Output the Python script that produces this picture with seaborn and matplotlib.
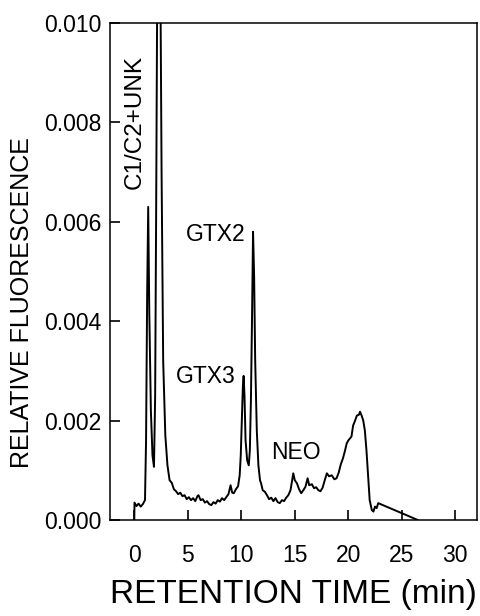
import numpy as np
import pandas as pd
import matplotlib
matplotlib.use("Agg")
import matplotlib.pyplot as plt
import seaborn as sns

# chromatogram trace (retention time in min, relative fluorescence)
time_min = [0.0, 0.02, 0.2, 0.4, 0.6, 0.8, 1.0, 1.1, 1.2, 1.3, 1.4, 1.55, 1.7, 1.84,
            1.95, 2.05, 2.15, 2.3, 2.45, 2.55, 2.7, 2.9, 3.1, 3.3, 3.5, 3.7, 3.9,
            4.1, 4.3, 4.5, 4.7, 4.9, 5.1, 5.3, 5.5, 5.7, 5.9, 6.0, 6.2, 6.4, 6.6,
            6.8, 7.0, 7.2, 7.4, 7.6, 7.8, 8.0, 8.2, 8.4, 8.6, 8.8, 9.0, 9.15, 9.3,
            9.5, 9.7, 9.85, 9.95, 10.05, 10.15, 10.22, 10.3, 10.4, 10.55, 10.7,
            10.8, 10.9, 11.0, 11.1, 11.2, 11.3, 11.45, 11.6, 11.75, 11.85, 12.0,
            12.2, 12.4, 12.6, 12.8, 13.0, 13.2, 13.4, 13.6, 13.8, 14.0, 14.2,
            14.4, 14.6, 14.75, 14.86, 15.0, 15.2, 15.4, 15.6, 15.8, 16.0, 16.2,
            16.35, 16.6, 16.8, 17.0, 17.2, 17.4, 17.6, 17.8, 18.0, 18.2, 18.45,
            18.7, 18.9, 19.1, 19.3, 19.5, 19.7, 19.85, 20.0, 20.3, 20.45, 20.6,
            20.8, 21.0, 21.1, 21.25, 21.4, 21.55, 21.7, 21.85, 22.0, 22.2, 22.35,
            22.5, 22.65, 22.8, 26.5]
fluor = [0.0, 0.00035, 0.00028, 0.00033, 0.00027, 0.00032, 0.0004, 0.0016, 0.0045,
         0.0063, 0.0042, 0.0022, 0.0013, 0.00107,
         0.0025, 0.0065, 0.0110, 0.0130, 0.0105, 0.0070, 0.0032, 0.0017, 0.0011,
         0.0008, 0.00075, 0.00062, 0.00058,
         0.00052, 0.00055, 0.00048, 0.0005, 0.00042, 0.00046, 0.0004, 0.00044,
         0.00038, 0.00048, 0.0005, 0.0004, 0.00042, 0.00035,
         0.00038, 0.00032, 0.0003, 0.00036, 0.00033, 0.0004, 0.00037, 0.00044,
         0.0004, 0.00046, 0.00052, 0.0007, 0.00055, 0.00054,
         0.00062, 0.00068, 0.0009, 0.0013, 0.0020, 0.0027, 0.0029, 0.0025,
         0.0016, 0.0012, 0.0011,
         0.0014, 0.0024, 0.0040, 0.0058, 0.0049, 0.0032, 0.0018, 0.0011, 0.0008,
         0.00074, 0.0006,
         0.00057, 0.0005, 0.00042, 0.00045, 0.00038, 0.00044, 0.00036, 0.00034,
         0.0004, 0.00038, 0.00045,
         0.0005, 0.0006, 0.0008, 0.00094, 0.0008, 0.00074, 0.00062, 0.00054,
         0.0006, 0.00067, 0.00084,
         0.0007, 0.00072, 0.00064, 0.00066, 0.0006, 0.00058, 0.00065, 0.0008,
         0.00094, 0.00088, 0.0009,
         0.00082, 0.00084, 0.00095, 0.00112, 0.00124, 0.0014, 0.00154, 0.0016,
         0.00168, 0.0019, 0.00198,
         0.0021, 0.00212, 0.00218, 0.0021, 0.002, 0.0018, 0.0014, 0.0009, 0.0004,
         0.0002, 0.00017,
         0.00027, 0.00024, 0.00034, 0.0]

peak_names = ["C1/C2+UNK", "GTX3", "GTX2", "NEO"]
label_x = [0.0, 6.7, 7.6, 15.1]
label_y = [0.0080, 0.00289, 0.00575, 0.00136]
label_rot = [90, 0, 0, 0]

x_ticks = [0, 5, 10, 15, 20, 25, 30]
y_ticks = [0.000, 0.002, 0.004, 0.006, 0.008, 0.010]
y_ticklabels = ["0.000", "0.002", "0.004", "0.006", "0.008", "0.010"]

df = pd.DataFrame({"time": time_min, "fluor": fluor})

sns.set_style("ticks")
plt.rcParams["font.family"] = ["Liberation Sans", "DejaVu Sans"]
plt.rcParams["text.color"] = "black"
plt.rcParams["axes.labelcolor"] = "black"

fig = plt.figure(figsize=(4.81, 6.16), dpi=100)
ax = fig.add_axes([0.2287, 0.1558, 0.7623, 0.8069])

sns.lineplot(data=df, x="time", y="fluor", color="black", linewidth=1.4,
             estimator=None, sort=False, ax=ax)

ax.set_xlim(-2.27, 32.0)
ax.set_ylim(0, 0.010)
ax.set_xticks(x_ticks)
ax.set_yticks(y_ticks)
ax.set_yticklabels(y_ticklabels)
ax.tick_params(axis="both", which="major", direction="in", length=7, width=1.2,
               labelsize=16.5, colors="black",
               bottom=True, left=True, top=False, right=False)
ax.tick_params(axis="x", pad=17)
ax.tick_params(axis="y", pad=6)
for s in ax.spines.values():
    s.set_linewidth(1.1)
    s.set_color("black")

ax.set_xlabel("RETENTION TIME (min)", fontsize=24, labelpad=9)
ax.set_ylabel("RELATIVE FLUORESCENCE", fontsize=18)
ax.yaxis.set_label_coords(-0.207, 0.4366)

for name, lx, ly, rot in zip(peak_names, label_x, label_y, label_rot):
    fs = 17.5 if rot == 90 else 16.5
    ax.text(lx, ly, name, fontsize=fs, rotation=rot, ha="center", va="center",
            color="black")

fig.savefig("out.png", dpi=100)
